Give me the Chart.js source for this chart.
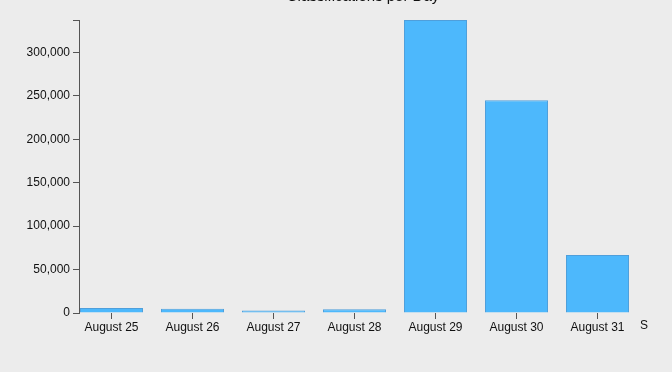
<!DOCTYPE html>
<html>
<head>
<meta charset="utf-8">
<script src="https://cdn.jsdelivr.net/npm/chart.js@4/dist/chart.umd.min.js"></script>
<style>
  body { margin: 0; background: #ececec; }
  #wrap { position: relative; width: 672px; height: 372px; overflow: hidden; }
  #title { position: absolute; left: 0; width: 726px; top: -13px; text-align: center;
    font: 15px "Liberation Sans", Arial, sans-serif; color: #111; }
  #stray { position: absolute; left: 640px; top: 318px; font: 12px "Liberation Sans", Arial, sans-serif; color: #111; }
</style>
</head>
<body>
<div id="wrap">
  <canvas id="dayChart" width="672" height="372"></canvas>
  <div id="title">Classifications per Day</div>
  <div id="stray">S</div>
</div>
<script>
  const days = ['August 25', 'August 26', 'August 27', 'August 28', 'August 29', 'August 30', 'August 31'];
  const classifications = [5800, 4800, 2800, 4400, 337500, 245000, 66800];
  const yTicks = [0, 50000, 100000, 150000, 200000, 250000, 300000];

  const yMax = Math.max(...classifications);

  const ctx = document.getElementById('dayChart').getContext('2d');
  const dayChart = new Chart(ctx, {
    type: 'bar',
    data: {
      datasets: [{
        label: 'Classifications',
        data: classifications.map((v, i) => ({ x: i, y: v })),
        backgroundColor: '#4db8fc',
        borderColor: 'rgba(40, 140, 215, 0.8)',
        borderWidth: 1,
        barPercentage: 1,
        categoryPercentage: 0.778
      }]
    },
    options: {
      responsive: false,
      animation: false,
      layout: { padding: { top: 20, right: 25, bottom: 0, left: 0 } },
      plugins: { legend: { display: false }, tooltip: { enabled: false } },
      scales: {
        x: {
          type: 'linear',
          offset: false,
          min: -0.401,
          max: 6.611,
          afterBuildTicks: (scale) => { scale.ticks = days.map((d, i) => ({ value: i })); },
          afterFit: (scale) => { scale.height = 59; },
          grid: { offset: false, drawOnChartArea: false, drawTicks: true, tickLength: 6, color: '#555' },
          border: { display: false },
          ticks: {
            padding: 1,
            maxRotation: 0,
            autoSkip: false,
            color: '#111',
            font: { family: '"Liberation Sans", Arial, sans-serif', size: 12 },
            callback: (v) => days[v]
          }
        },
        y: {
          min: 0,
          max: yMax,
          afterBuildTicks: (scale) => {
            scale.ticks = yTicks.map(v => ({ value: v })).concat([{ value: yMax }]);
          },
          afterFit: (scale) => { scale.width = 79; },
          grid: { drawOnChartArea: false, drawTicks: true, tickLength: 6, color: '#555' },
          border: { display: true, color: '#555' },
          ticks: {
            padding: 3,
            color: '#111',
            font: { family: '"Liberation Sans", Arial, sans-serif', size: 12 },
            callback: (v) => yTicks.includes(v) ? v.toLocaleString('en-US') : ''
          }
        }
      }
    }
  });
</script>
</body>
</html>
